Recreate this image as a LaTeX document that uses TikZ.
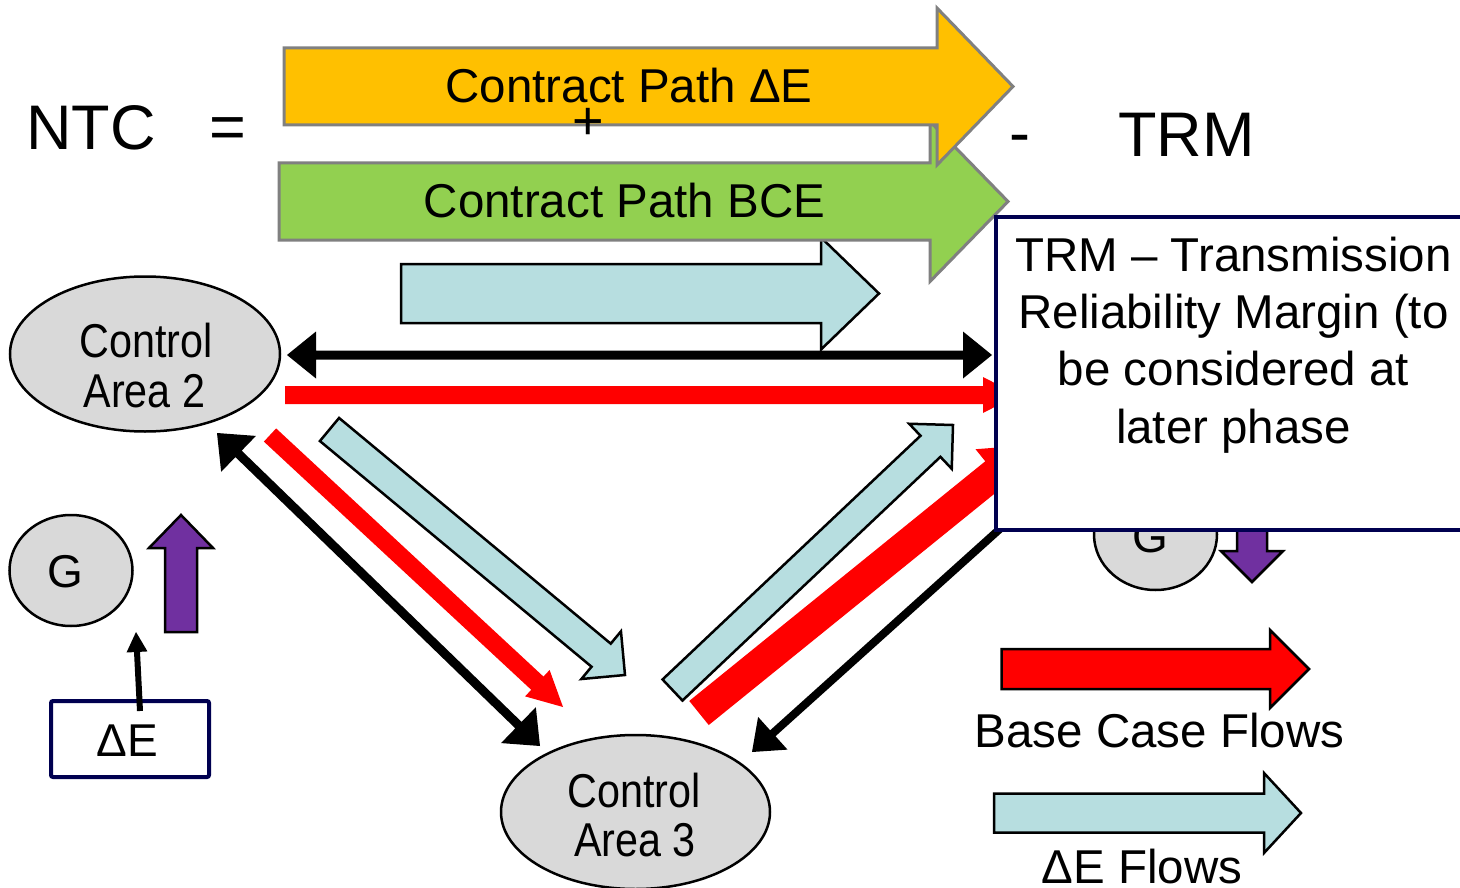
\documentclass[tikz,border=0pt]{standalone}
\usepackage{fontspec}
\setmainfont{Liberation Sans}
\usetikzlibrary{calc,shapes.geometric}
\definecolor{cpyellow}{HTML}{FFC000}
\definecolor{cpgreen}{HTML}{92D050}
\definecolor{flowblue}{RGB}{183,222,224}
\definecolor{areagray}{HTML}{D9D9D9}
\definecolor{navyline}{RGB}{0,0,80}
\definecolor{genpurple}{HTML}{7030A0}
\definecolor{outgray}{HTML}{808080}

% single-headed block arrow: #1 style, #2 start, #3 tip, #4 half body, #5 half head, #6 head length
\newcommand\fatarrow[6]{%
  \coordinate (fa-hb) at ($(#3)!#6!(#2)$);
  \path[#1] ($(#2)!#4!90:(#3)$) -- ($(fa-hb)!#4!90:(#3)$) -- ($(fa-hb)!#5!90:(#3)$)
    -- (#3) -- ($(fa-hb)!#5!-90:(#3)$) -- ($(fa-hb)!#4!-90:(#3)$)
    -- ($(#2)!#4!-90:(#3)$) -- cycle;
}
% double-headed block arrow
\newcommand\dblarrow[6]{%
  \coordinate (da-a) at ($(#2)!#6!(#3)$);
  \coordinate (da-b) at ($(#3)!#6!(#2)$);
  \path[#1] (#2) -- ($(da-a)!#5!90:(#3)$) -- ($(da-a)!#4!90:(#3)$)
    -- ($(da-b)!#4!90:(#3)$) -- ($(da-b)!#5!90:(#3)$) -- (#3)
    -- ($(da-b)!#5!-90:(#3)$) -- ($(da-b)!#4!-90:(#3)$)
    -- ($(da-a)!#4!-90:(#3)$) -- ($(da-a)!#5!-90:(#3)$) -- cycle;
}
\newcommand\fsbig{\fontsize{63}{70}\selectfont}
\newcommand\fsmed{\fontsize{47.5}{57.5}\selectfont}

\tikzset{
  contract/.style={draw=outgray, line width=3pt},
  deltaflow/.style={fill=flowblue, draw=black, line width=2.5pt},
  baseflow/.style={fill=red},
  blackflow/.style={fill=black},
  genarrow/.style={fill=genpurple, draw=black, line width=2.5pt},
  areanode/.style={ellipse, draw=black, line width=2.5pt, fill=areagray, inner sep=0pt},
  lbl/.style={anchor=base, inner sep=0pt, font=\fsmed},
  biglbl/.style={anchor=base, inner sep=0pt, font=\fsbig},
  boxnode/.style={draw=navyline, line width=4pt, fill=white, inner sep=0pt, anchor=north west},
}

\begin{document}
\begin{tikzpicture}[x=1pt,y=-1pt]
\useasboundingbox (0,0) rectangle (1460,888);
\clip (0,0) rectangle (1460,888);
\fill[white] (0,0) rectangle (1460,888);

% ---------- coordinates ----------
\coordinate (bh-s) at (401,293.5);  \coordinate (bh-t) at (879,293.5);
\coordinate (gr-s) at (279,201.5);  \coordinate (gr-t) at (1008,201.5);
\coordinate (ye-s) at (284,86.5);   \coordinate (ye-t) at (1013,86.5);

\coordinate (kh-a) at (287,355);    \coordinate (kh-b) at (992,355);
\coordinate (rh-s) at (285,395);    \coordinate (rh-t) at (1018,395);

\coordinate (kl-a) at (217,433);    \coordinate (kl-b) at (540,746);
\coordinate (rl-s) at (270,435);    \coordinate (rl-t) at (563,707);
\coordinate (bl-s) at (329.5,429.5);\coordinate (bl-t) at (625,675);

\coordinate (br-s) at (672.5,690);  \coordinate (br-t) at (953,425);
\coordinate (rr-s) at (699,713);    \coordinate (rr-t) at (1030,445);
\coordinate (kr-s) at (1012,518);   \coordinate (kr-t) at (752,752);

\coordinate (pl-s) at (181,632);    \coordinate (pl-t) at (181,515);
\coordinate (pr-s) at (1252,500);   \coordinate (pr-t) at (1252,582);

\coordinate (de-s) at (140,711);    \coordinate (de-t) at (136,632);

\coordinate (lr-s) at (1001.5,669); \coordinate (lr-t) at (1309,669);
\coordinate (lb-s) at (994,813);    \coordinate (lb-t) at (1301,813);

% ---------- top contract paths ----------
\fatarrow{deltaflow}{bh-s}{bh-t}{29.5pt}{56pt}{58pt}
\fatarrow{contract, fill=cpgreen}{gr-s}{gr-t}{38.5pt}{80pt}{78pt}
\fatarrow{contract, fill=cpyellow}{ye-s}{ye-t}{38.5pt}{78.5pt}{76pt}

\node[lbl] (cpde) at (629,103) {Contract Path ΔE};
\node[lbl] (cpbce) at (624.5,218) {Contract Path BCE};
\node[anchor=base, inner sep=0pt, font=\fontsize{54}{60}\selectfont] (plus) at (588,140) {+};

\node[biglbl] (ntc) at (91,150) {NTC};
\node[biglbl] (eq) at (228,149) {=};
\node[biglbl] (minus) at (1020,155) {-};
\node[biglbl] (trm) at (1186.5,157) {TRM};

% ---------- flows between areas ----------
\dblarrow{blackflow}{kh-a}{kh-b}{4.5pt}{23.5pt}{29pt}
\fatarrow{baseflow}{rh-s}{rh-t}{9pt}{18pt}{35pt}

\dblarrow{blackflow}{kl-a}{kl-b}{4.5pt}{25pt}{30pt}
\fatarrow{baseflow}{rl-s}{rl-t}{9pt}{18pt}{35pt}
\fatarrow{deltaflow}{bl-s}{bl-t}{15pt}{31pt}{31pt}

\fatarrow{deltaflow}{br-s}{br-t}{14.5pt}{31pt}{31pt}
\fatarrow{baseflow}{rr-s}{rr-t}{15.5pt}{31pt}{45pt}
\fatarrow{blackflow}{kr-s}{kr-t}{4pt}{22pt}{28pt}

% ---------- right generator (partly hidden) ----------
\node[areanode, minimum width=123pt, minimum height=111pt] (gright) at (1155.5,534.5) {};
\node[lbl, font=\fontsize{46}{50}\selectfont] (grighttxt) at (1150,552) {G};
\fatarrow{genarrow}{pr-s}{pr-t}{15pt}{31pt}{31pt}

% ---------- TRM box ----------
\node[boxnode, minimum width=490pt, minimum height=313pt] (trmbox) at (994,215) {};
\node[lbl] (trm1) at (1233.5,271) {TRM – Transmission};
\node[lbl] (trm2) at (1233.5,328) {Reliability Margin (to};
\node[lbl] (trm3) at (1233.5,385) {be considered at};
\node[lbl] (trm4) at (1233.5,443) {later phase};

% ---------- control areas ----------
\node[areanode, minimum width=270pt, minimum height=155pt] (ca2) at (145,354) {};
\node[lbl] (ca2a) at (146,357) {\scalebox{0.87}[1]{Control}};
\node[lbl] (ca2b) at (144.5,407) {\scalebox{0.87}[1]{Area 2}};

\node[areanode, minimum width=269pt, minimum height=154pt] (ca3) at (635.5,812) {};
\node[lbl] (ca3a) at (634,807) {\scalebox{0.87}[1]{Control}};
\node[lbl] (ca3b) at (635,856) {\scalebox{0.87}[1]{Area 3}};

% ---------- left generator ----------
\node[areanode, minimum width=123pt, minimum height=111pt] (gleft) at (71,570.5) {};
\node[lbl, font=\fontsize{46}{50}\selectfont] (glefttxt) at (65,587) {G};
\fatarrow{genarrow}{pl-s}{pl-t}{16pt}{32pt}{33pt}

\node[boxnode, minimum width=158pt, minimum height=76pt, rounded corners=2pt] (debox) at (49,699) {};
\node[lbl, font=\fontsize{46}{50}\selectfont] (detxt) at (127,756) {ΔE};
\fatarrow{blackflow}{de-s}{de-t}{3pt}{10.5pt}{20pt}

% ---------- legend ----------
\fatarrow{baseflow, draw=black, line width=2.5pt}{lr-s}{lr-t}{20pt}{39pt}{39pt}
\node[lbl] (lgbase) at (1159.5,747) {Base Case Flows};
\fatarrow{deltaflow}{lb-s}{lb-t}{19.5pt}{40pt}{37pt}
\node[lbl] (lgde) at (1142,883) {ΔE Flows};
\end{tikzpicture}
\end{document}
